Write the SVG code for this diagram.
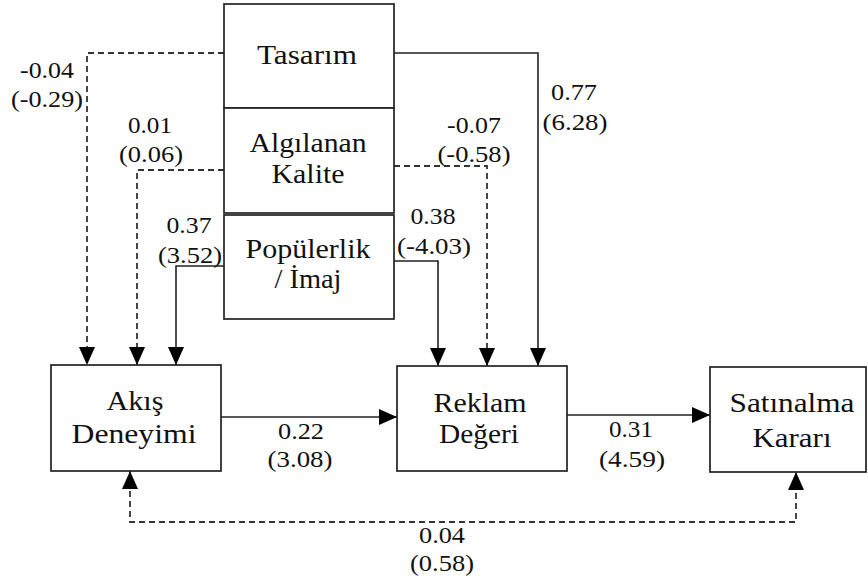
<svg xmlns="http://www.w3.org/2000/svg" width="868" height="583" viewBox="0 0 868 583">
<style>
.box{fill:#fff;stroke:#222;stroke-width:1.7}
.lbl{font-family:"Liberation Serif",serif;font-size:27px;fill:#111;text-anchor:middle}
.num{font-family:"Liberation Serif",serif;font-size:23px;fill:#111;text-anchor:middle}
.solid{fill:none;stroke:#222;stroke-width:1.6}
.dash{fill:none;stroke:#333;stroke-width:1.8;stroke-dasharray:6,4}
</style>
<defs>
<marker id="ah" viewBox="0 0 18 16" refX="18" refY="8" markerWidth="18" markerHeight="16" markerUnits="userSpaceOnUse" orient="auto-start-reverse">
<path d="M0,0 L18,8 L0,16 Z" fill="#000"/>
</marker>
</defs>
<rect width="868" height="583" fill="#fff"/>
<g id="connectors">
<path class="dash" d="M224,53 H87 V365" marker-end="url(#ah)"/>
<path class="dash" d="M224,170 H137 V365" marker-end="url(#ah)"/>
<path class="solid" d="M224,266 H176 V365" marker-end="url(#ah)"/>
<path class="solid" d="M394,261 H438 V366" marker-end="url(#ah)"/>
<path class="dash" d="M394,166 H487 V366" marker-end="url(#ah)"/>
<path class="solid" d="M394,53 H538 V366" marker-end="url(#ah)"/>
<path class="solid" d="M221,417 H397" marker-end="url(#ah)"/>
<path class="solid" d="M567,415 H710" marker-end="url(#ah)"/>
<path class="dash" d="M130,471 V522 H796 V472" marker-start="url(#ah)" marker-end="url(#ah)"/>
<text class="num" x="47" y="78" textLength="54" lengthAdjust="spacingAndGlyphs">-0.04</text>
<text class="num" x="47" y="107" textLength="72" lengthAdjust="spacingAndGlyphs">(-0.29)</text>
<text class="num" x="150" y="133" textLength="44" lengthAdjust="spacingAndGlyphs">0.01</text>
<text class="num" x="151" y="162" textLength="64" lengthAdjust="spacingAndGlyphs">(0.06)</text>
<text class="num" x="189" y="233" textLength="45" lengthAdjust="spacingAndGlyphs">0.37</text>
<text class="num" x="190" y="263" textLength="64" lengthAdjust="spacingAndGlyphs">(3.52)</text>
<text class="num" x="474" y="133" textLength="54" lengthAdjust="spacingAndGlyphs">-0.07</text>
<text class="num" x="474" y="162" textLength="73" lengthAdjust="spacingAndGlyphs">(-0.58)</text>
<text class="num" x="433" y="224" textLength="45" lengthAdjust="spacingAndGlyphs">0.38</text>
<text class="num" x="434" y="254" textLength="74" lengthAdjust="spacingAndGlyphs">(-4.03)</text>
<text class="num" x="574" y="100" textLength="46" lengthAdjust="spacingAndGlyphs">0.77</text>
<text class="num" x="575" y="130" textLength="65" lengthAdjust="spacingAndGlyphs">(6.28)</text>
<text class="num" x="301" y="439" textLength="46" lengthAdjust="spacingAndGlyphs">0.22</text>
<text class="num" x="300" y="467" textLength="65" lengthAdjust="spacingAndGlyphs">(3.08)</text>
<text class="num" x="631" y="437" textLength="44" lengthAdjust="spacingAndGlyphs">0.31</text>
<text class="num" x="632" y="467" textLength="66" lengthAdjust="spacingAndGlyphs">(4.59)</text>
<text class="num" x="442" y="543" textLength="46" lengthAdjust="spacingAndGlyphs">0.04</text>
<text class="num" x="442" y="571" textLength="64" lengthAdjust="spacingAndGlyphs">(0.58)</text>
</g>
<g id="tasarim">
<rect class="box" x="224" y="4" width="170" height="104"/>
<text class="lbl" x="307" y="64" textLength="100" lengthAdjust="spacingAndGlyphs">Tasarım</text>
</g>
<g id="algilanan-kalite">
<rect class="box" x="224" y="108" width="170" height="105"/>
<text class="lbl" x="308" y="152" textLength="117" lengthAdjust="spacingAndGlyphs">Algılanan</text>
<text class="lbl" x="308" y="183" textLength="73" lengthAdjust="spacingAndGlyphs">Kalite</text>
</g>
<g id="populerlik-imaj">
<rect class="box" x="224" y="215" width="170" height="104"/>
<text class="lbl" x="308" y="258" textLength="125" lengthAdjust="spacingAndGlyphs">Popülerlik</text>
<text class="lbl" x="308" y="288" textLength="67" lengthAdjust="spacingAndGlyphs">/ İmaj</text>
</g>
<g id="akis-deneyimi">
<rect class="box" x="51" y="365" width="170" height="106"/>
<text class="lbl" x="135" y="410" textLength="57" lengthAdjust="spacingAndGlyphs">Akış</text>
<text class="lbl" x="134" y="443" textLength="125" lengthAdjust="spacingAndGlyphs">Deneyimi</text>
</g>
<g id="reklam-degeri">
<rect class="box" x="397" y="366" width="170" height="105"/>
<text class="lbl" x="480" y="412" textLength="93" lengthAdjust="spacingAndGlyphs">Reklam</text>
<text class="lbl" x="479" y="443" textLength="80" lengthAdjust="spacingAndGlyphs">Değeri</text>
</g>
<g id="satinalma-karari">
<rect class="box" x="710" y="367" width="156" height="105"/>
<text class="lbl" x="792" y="412" textLength="125" lengthAdjust="spacingAndGlyphs">Satınalma</text>
<text class="lbl" x="792" y="447" textLength="79" lengthAdjust="spacingAndGlyphs">Kararı</text>
</g>
</svg>
